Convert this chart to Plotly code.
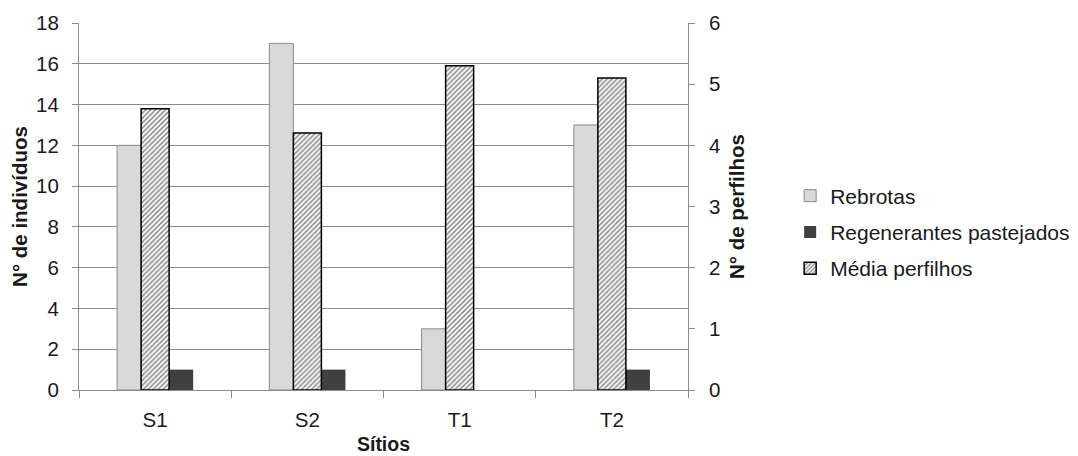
import plotly.graph_objects as go

categories = ["S1", "S2", "T1", "T2"]
rebrotas = [12, 17, 3, 13]
regenerantes = [1, 1, 0, 1]
media_perfilhos = [4.6, 4.2, 5.3, 5.1]

xpos = list(range(len(categories)))
FONT = "Liberation Sans, Arial, sans-serif"
GRID = "#8c8c8c"
FS = 20.5

fig = go.Figure()
fig.add_trace(go.Bar(
    x=xpos, y=rebrotas, name="Rebrotas", yaxis="y",
    offset=-0.25, width=0.158,
    marker=dict(color="#d9d9d9", line=dict(color="#8a8a8a", width=1)),
    legendgroup="a",
))
fig.add_trace(go.Bar(
    x=xpos, y=regenerantes, name="Regenerantes pastejados", yaxis="y",
    offset=0.092, width=0.158,
    marker=dict(color="#404040", line=dict(color="#404040", width=0)),
    legendgroup="b",
))
fig.add_trace(go.Bar(
    x=xpos, y=media_perfilhos, name="Média perfilhos", yaxis="y2",
    offset=-0.092, width=0.184,
    marker=dict(color="white", line=dict(color="black", width=1.5),
                pattern=dict(shape="/", fgcolor="#111111", bgcolor="white",
                             size=3.5, solidity=0.45)),
    legendgroup="c",
))

fig.update_layout(
    width=1070, height=448,
    margin=dict(l=71, r=390, t=15, b=66),
    paper_bgcolor="white", plot_bgcolor="white",
    barmode="overlay",
    font=dict(family=FONT, size=FS, color="#1a1a1a"),
    xaxis=dict(
        range=[-0.5, 3.5], tickmode="array", tickvals=xpos, ticktext=categories,
        showgrid=False, ticks="", showline=True, linecolor=GRID, linewidth=1,
        zeroline=False, automargin=False, ticklabelstandoff=11,
        minor=dict(tickmode="array", tickvals=[-0.5, 0.5, 1.5, 2.5, 3.5],
                   ticks="outside", ticklen=7, tickcolor=GRID, showgrid=False),
        title=dict(text="<b>Sítios</b>", font=dict(size=FS - 1), standoff=7),
    ),
    yaxis=dict(
        range=[0, 18], dtick=2, showgrid=True, gridcolor=GRID, gridwidth=1,
        showline=True, linecolor=GRID, ticks="outside", ticklen=6, tickcolor=GRID,
        zeroline=False, automargin=False, ticklabelstandoff=9,
        title=dict(text="<b>N° de indivíduos</b>", font=dict(size=FS), standoff=2),
    ),
    yaxis2=dict(
        range=[0, 6], dtick=1, overlaying="y", side="right", showgrid=False,
        showline=True, linecolor=GRID, ticks="outside", ticklen=6, tickcolor=GRID,
        zeroline=False, automargin=False, ticklabelstandoff=10,
        title=dict(text="<b>N° de perfilhos</b>", font=dict(size=FS), standoff=10),
    ),
    legend=dict(
        xref="container", yref="container",
        x=0.731, y=0.5, xanchor="left", yanchor="middle",
        font=dict(size=21), tracegroupgap=6, itemwidth=30,
        bgcolor="rgba(0,0,0,0)",
    ),
    showlegend=True,
)

fig.write_html("out.html")
